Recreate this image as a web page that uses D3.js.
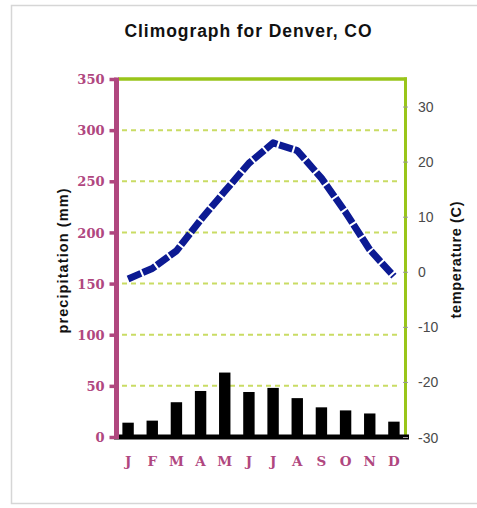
<!DOCTYPE html>
<html>
<head>
<meta charset="utf-8">
<script src="https://cdn.jsdelivr.net/npm/d3@7"></script>
<style>
  html, body { margin: 0; padding: 0; background: #fff; }
  svg { display: block; }
</style>
</head>
<body>
<svg id="chart" width="477" height="508"></svg>
<script>
const months = ["Jan","Feb","Mar","Apr","May","Jun","Jul","Aug","Sep","Oct","Nov","Dec"];
const monthLabels = ["J","F","M","A","M","J","J","A","S","O","N","D"];
const precipitation = [14, 16, 34, 45, 63, 44, 48, 38, 29, 26, 23, 15];
const temperature = [-1.3, 0.6, 3.8, 9.4, 14.6, 19.7, 23.4, 22.0, 17.0, 10.8, 4.0, -0.8];
const precipTicks = [0, 50, 100, 150, 200, 250, 300, 350];
const tempTicks = [-30, -20, -10, 0, 10, 20, 30];
const gridTicks = [50, 100, 150, 200, 250, 300];

const maroon = "#b0477f";
const green = "#99c51a";
const gridGreen = "#c9dc64";
const navy = "#0c1a93";

const svg = d3.select("#chart");

// outer frame
svg.append("rect")
  .attr("x", 11.5).attr("y", 5.5).attr("width", 480).attr("height", 498)
  .attr("fill", "none").attr("stroke", "#d6d6d6").attr("stroke-width", 1.5);

const x = d3.scaleBand().domain(months).range([116, 406]).paddingInner(0).paddingOuter(0);
const yP = d3.scaleLinear().domain([0, 350]).range([437, 79]);
const yT = d3.scaleLinear().domain([-30, 35]).range([437, 79]);

// title
svg.append("text")
  .attr("x", 248).attr("y", 37)
  .attr("text-anchor", "middle")
  .attr("font-family", "Liberation Sans, Arial, sans-serif")
  .attr("font-weight", "bold")
  .attr("font-size", 17.5)
  .attr("textLength", 247).attr("lengthAdjust", "spacing")
  .attr("fill", "#111")
  .text("Climograph for Denver, CO");

// gridlines
svg.append("g").selectAll("line").data(gridTicks).join("line")
  .attr("x1", 122).attr("x2", 401)
  .attr("y1", d => yP(d)).attr("y2", d => yP(d))
  .attr("stroke", gridGreen).attr("stroke-width", 2)
  .attr("stroke-dasharray", "5,4");

// top green border and right green axis line
svg.append("line")
  .attr("x1", 118).attr("x2", 407)
  .attr("y1", yP(350)).attr("y2", yP(350))
  .attr("stroke", green).attr("stroke-width", 3.5);
svg.append("line")
  .attr("x1", 405.5).attr("x2", 405.5)
  .attr("y1", yP(350) - 1.5).attr("y2", yP(0))
  .attr("stroke", green).attr("stroke-width", 3);

// bars
svg.append("g").selectAll("rect").data(precipitation).join("rect")
  .attr("x", (d, i) => x(months[i]) + x.bandwidth() / 2 - 5.7)
  .attr("width", 11.4)
  .attr("y", d => yP(d))
  .attr("height", d => yP(0) - yP(d))
  .attr("fill", "#000");

// baseline
svg.append("line")
  .attr("x1", 114).attr("x2", 409)
  .attr("y1", yP(0)).attr("y2", yP(0))
  .attr("stroke", "#000").attr("stroke-width", 5);

// left axis
const leftAxis = svg.append("g")
  .attr("transform", "translate(116.5,0)")
  .call(d3.axisLeft(yP).tickValues(precipTicks).tickSize(7).tickPadding(5).tickSizeOuter(0));
leftAxis.select(".domain")
  .attr("stroke", maroon).attr("stroke-width", 5)
  .attr("d", `M0,${yP(350) - 1.5}V${yP(0) + 2}`);
leftAxis.selectAll(".tick line").attr("stroke", maroon).attr("stroke-width", 3.5);
leftAxis.selectAll(".tick text")
  .attr("fill", maroon)
  .attr("font-family", "DejaVu Serif, serif")
  .attr("font-weight", "bold")
  .attr("font-size", 13)
  .attr("x", -12)
  .attr("dy", "0.36em");

// right axis (temperature)
const rightAxis = svg.append("g")
  .attr("transform", "translate(403,0)")
  .call(d3.axisRight(yT).tickValues(tempTicks).tickSize(5).tickPadding(10).tickSizeOuter(0)
    .tickFormat(d => String(d)));
rightAxis.select(".domain").remove();
rightAxis.selectAll(".tick line").attr("stroke", "#9a9a9a").attr("stroke-width", 1);
rightAxis.selectAll(".tick text")
  .attr("fill", "#4a4a4a")
  .attr("font-family", "Liberation Sans, Arial, sans-serif")
  .attr("font-size", 14)
  .attr("x", 15)
  .attr("dy", "0.36em");

// month labels
const bottomAxis = svg.append("g")
  .attr("transform", `translate(0,${yP(0)})`)
  .call(d3.axisBottom(x).tickSize(0).tickPadding(0).tickFormat((d, i) => monthLabels[i]));
bottomAxis.select(".domain").remove();
bottomAxis.selectAll(".tick text")
  .attr("fill", maroon)
  .attr("font-family", "DejaVu Serif, serif")
  .attr("font-weight", "bold")
  .attr("font-size", 13.5)
  .attr("y", 24)
  .attr("dy", "0.36em");

// temperature line
const line = d3.line()
  .x((d, i) => x(months[i]) + x.bandwidth() / 2)
  .y(d => yT(d));
svg.append("path")
  .datum(temperature)
  .attr("d", line)
  .attr("fill", "none")
  .attr("stroke", navy)
  .attr("stroke-width", 7)
  .attr("stroke-linejoin", "round")
  .attr("stroke-dasharray", "14,2");

// axis titles
svg.append("text")
  .attr("transform", "translate(68,261) rotate(-90)")
  .attr("text-anchor", "middle")
  .attr("font-family", "Liberation Sans, Arial, sans-serif")
  .attr("font-weight", "bold")
  .attr("font-size", 14.5)
  .attr("textLength", 145).attr("lengthAdjust", "spacing")
  .attr("fill", "#111")
  .text("precipitation (mm)");

svg.append("text")
  .attr("transform", "translate(461,260) rotate(-90)")
  .attr("text-anchor", "middle")
  .attr("font-family", "Liberation Sans, Arial, sans-serif")
  .attr("font-weight", "bold")
  .attr("font-size", 14.5)
  .attr("textLength", 117).attr("lengthAdjust", "spacing")
  .attr("fill", "#111")
  .text("temperature (C)");
</script>
</body>
</html>
